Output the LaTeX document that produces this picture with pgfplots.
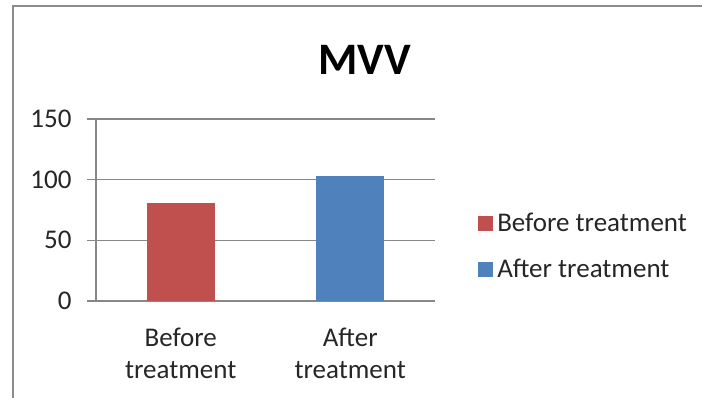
\documentclass[border=0pt]{standalone}
\usepackage{fontspec}
\setmainfont{Carlito}
\usepackage{pgfplots}
\pgfplotsset{compat=1.18}
\definecolor{barred}{HTML}{C0504D}
\definecolor{barblue}{HTML}{4F81BD}
\definecolor{gridgray}{HTML}{878787}
\definecolor{framegray}{HTML}{8C8C8C}

\begin{document}
\begin{tikzpicture}[x=1pt,y=1pt]
\useasboundingbox (0,0) rectangle (702,398);
% chart area border (left and top edges)
\draw[framegray, line width=1.8pt] (13,-2) -- (13,392) -- (704,392);
% chart title
\node[font=\fontsize{45}{50}\selectfont\bfseries] at (365,338) {MVV};
\begin{axis}[
  at={(96pt,97pt)}, anchor=south west,
  scale only axis, width=339pt, height=182pt,
  xmin=-0.5, xmax=1.5, ymin=0, ymax=150,
  axis x line*=bottom, axis y line*=left,
  axis line style={gridgray, line width=1.5pt},
  ytick={0,50,100,150},
  ymajorgrids, grid style={gridgray, line width=1.5pt},
  tick align=outside, major tick length=9pt,
  tick style={gridgray, line width=1.5pt},
  xtick={0,1},
  xticklabels={Before\\treatment, After\\treatment},
  x tick style={draw=none},
  extra x ticks={-0.5,0.5,1.5},
  extra x tick labels={},
  extra x tick style={tick style={gridgray, line width=1.5pt}},
  /pgf/number format/assume math mode=true,
  ticklabel style={font=\fontsize{27}{32}\selectfont, text=black!85},
  xticklabel style={align=center, yshift=-14pt},
  yticklabel style={xshift=-12pt},
  legend style={draw=none, fill=none, at={(1.127,0.30)}, anchor=west,
    font=\fontsize{27}{32}\selectfont, text=black!85,
    row sep=24pt, inner sep=0pt,
    nodes={inner xsep=4pt, inner ysep=1pt}},
  legend cell align=left,
  legend image code/.code={\fill[#1] (0pt,-7.5pt) rectangle (15pt,7.5pt);},
]
\addplot[ybar, bar width=68pt, bar shift=0pt, fill=barred, draw=none]
  coordinates {(0,81)};
\addlegendentry{Before treatment}
\addplot[ybar, bar width=68pt, bar shift=0pt, fill=barblue, draw=none]
  coordinates {(1,103)};
\addlegendentry{After treatment}
\end{axis}
\end{tikzpicture}
\end{document}
